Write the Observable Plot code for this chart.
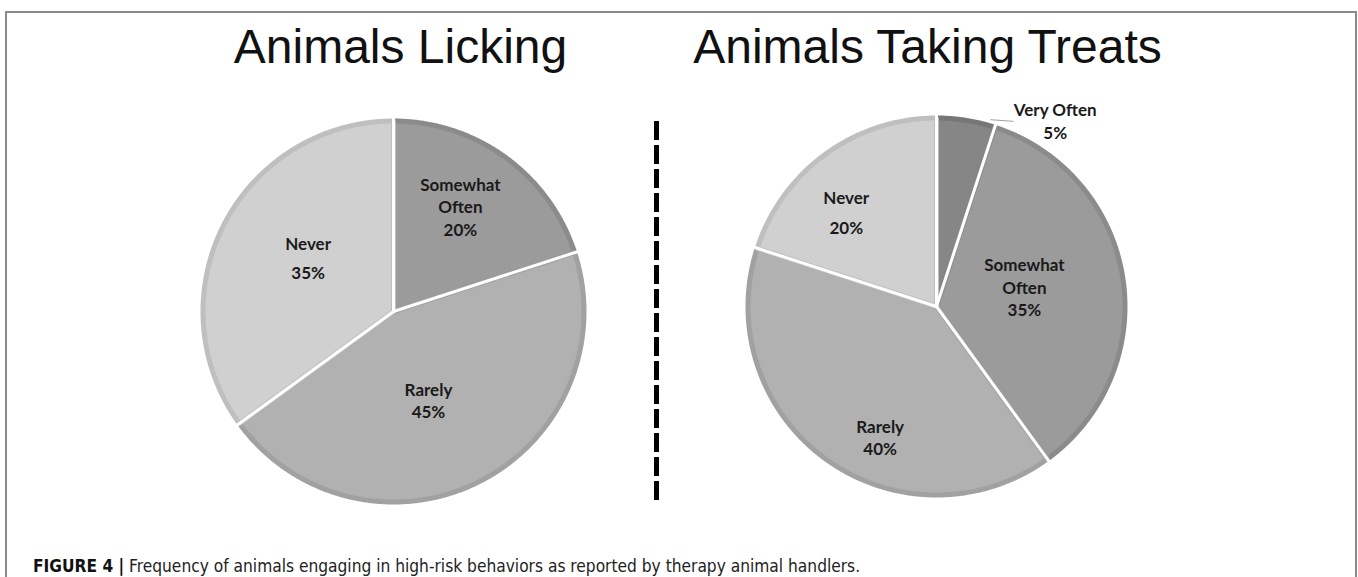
<!DOCTYPE html>
<html><head><meta charset="utf-8">
<script src="https://cdn.jsdelivr.net/npm/d3@7"></script>
<script src="https://cdn.jsdelivr.net/npm/@observablehq/plot@0.6"></script>
<style>
html,body{margin:0;padding:0;background:#fff;width:1358px;height:577px;overflow:hidden;}
#frame{position:absolute;left:5px;top:11px;width:1352px;height:700px;border:2px solid #8a8a8a;box-sizing:border-box;}
#chart{position:absolute;left:0;top:0;}
#caption{position:absolute;left:33px;top:557px;font-family:"DejaVu Sans Condensed","Liberation Sans",sans-serif;font-size:17.2px;color:#222;white-space:nowrap;line-height:19px;}
#caption b{color:#111;}
</style></head><body>
<div id="frame"></div>
<div id="chart"></div>
<div id="caption"></div>
<script>
// ---------- data ----------
const chartTitles = ["Animals Licking", "Animals Taking Treats"];
const lickingCategories = ["Somewhat Often", "Rarely", "Never"];
const lickingValues = [20, 45, 35];
const treatsCategories = ["Very Often", "Somewhat Often", "Rarely", "Never"];
const treatsValues = [5, 35, 40, 20];
const captionLabel = "FIGURE 4 |";
const captionText = "Frequency of animals engaging in high-risk behaviors as reported by therapy animal handlers.";

// ---------- layout & style ----------
const W = 1358, H = 545;
const pieLayout = [
  {title: chartTitles[0], categories: lickingCategories, values: lickingValues, cx: 393, cy: 311, r: 193, titleX: 400},
  {title: chartTitles[1], categories: treatsCategories, values: treatsValues, cx: 936, cy: 306, r: 191, titleX: 927}
];
const titleY = 47.5;
const fills = {"Very Often": "#868686", "Somewhat Often": "#9b9b9b", "Rarely": "#b1b1b1", "Never": "#d0d0d0"};
const borders = {"Very Often": "#767676", "Somewhat Often": "#8b8b8b", "Rarely": "#a1a1a1", "Never": "#bfbfbf"};
// [radius fraction, angle shift (deg) from slice middle, line gap px, wrap]
const labelPlacement = {
  "Animals Licking": {"Somewhat Often": [0.64, -3.2, 22.5, true], "Rarely": [0.5, 5.75, 22, true], "Never": [0.52, 4.7, 29, true]},
  "Animals Taking Treats": {"Very Often": [1.15, 23.7, 23, false], "Somewhat Often": [0.47, -2.75, 22.5, true], "Rarely": [0.75, -12.85, 22, true], "Never": [0.68, -8, 30, true]}
};
// leader line for outside label: polar [deg, radius fraction]
const leaders = {"Animals Taking Treats": {"Very Often": [[16.1, 1.018], [22.6, 1.05]]}};
const divider = {x: 656, y1: 121, y2: 505, dash: "19,5", width: 5};
const borderW = 5;

// ---------- build geometry from data ----------
const rad = Math.PI / 180;
const slicePts = [], seps = [], labelRows = [], leaderRows = [];
for (const p of pieLayout) {
  const arcs = d3.pie().sort(null).value(d => d)(p.values);
  const rr = p.r - borderW / 2;
  arcs.forEach((a, i) => {
    const cat = p.categories[i];
    const key = p.title + "|" + cat;
    const pt = (ang, r) => ({x: p.cx + r * Math.sin(ang), y: p.cy - r * Math.cos(ang)});
    slicePts.push({key, ...pt(0, 0), fill: fills[cat], stroke: borders[cat]});
    const n = Math.max(2, Math.ceil((a.endAngle - a.startAngle) / (0.4 * rad)));
    for (let k = 0; k <= n; k++) {
      const ang = a.startAngle + (a.endAngle - a.startAngle) * k / n;
      slicePts.push({key, ...pt(ang, rr), fill: fills[cat], stroke: borders[cat]});
    }
    const s0 = pt(a.startAngle, 0), s1 = pt(a.startAngle, p.r + 3);
    seps.push({x1: s0.x, y1: s0.y, x2: s1.x, y2: s1.y});
    const [frac, shift, gap, wrap] = labelPlacement[p.title][cat];
    const mid = (a.startAngle + a.endAngle) / 2 + shift * rad;
    const c = pt(mid, frac * p.r);
    const lines = (wrap ? cat.split(" ") : [cat]).concat([a.value + "%"]);
    lines.forEach((t, j) => labelRows.push({x: c.x, y: c.y + (j - (lines.length - 1) / 2) * gap, text: t}));
    const ld = leaders[p.title] && leaders[p.title][cat];
    if (ld) {
      const q0 = pt(ld[0][0] * rad, ld[0][1] * p.r), q1 = pt(ld[1][0] * rad, ld[1][1] * p.r);
      leaderRows.push({x1: q0.x, y1: q0.y, x2: q1.x, y2: q1.y});
    }
  });
}
const titleRows = pieLayout.map(p => ({x: p.titleX, y: titleY, text: p.title}));

const chart = Plot.plot({
  width: W, height: H, margin: 0,
  axis: null,
  x: {type: "identity"}, y: {type: "identity"}, color: {type: "identity"},
  style: {background: "transparent", overflow: "visible"},
  marks: [
    Plot.line(slicePts, {x: "x", y: "y", z: "key", fill: "fill", stroke: "stroke", strokeWidth: borderW, curve: "linear-closed", strokeLinejoin: "miter"}),
    Plot.link(seps, {x1: "x1", y1: "y1", x2: "x2", y2: "y2", stroke: "white", strokeWidth: 3}),
    Plot.link(leaderRows, {x1: "x1", y1: "y1", x2: "x2", y2: "y2", stroke: "#a0a0a0", strokeWidth: 1}),
    Plot.ruleX([divider.x], {y1: divider.y1, y2: divider.y2, stroke: "#000", strokeWidth: divider.width, strokeDasharray: divider.dash}),
    Plot.text(labelRows, {x: "x", y: "y", text: "text", fontFamily: "Lato", fontWeight: 700, fontSize: 17, fill: "#1a1a1a"}),
    Plot.text(titleRows, {x: "x", y: "y", text: "text", fontFamily: "Liberation Sans", fontSize: 48, fill: "#111"})
  ]
});
document.getElementById("chart").appendChild(chart);
const cap = document.getElementById("caption");
const b = document.createElement("b"); b.textContent = captionLabel;
cap.appendChild(b); cap.appendChild(document.createTextNode(" " + captionText));
</script>
</body></html>
